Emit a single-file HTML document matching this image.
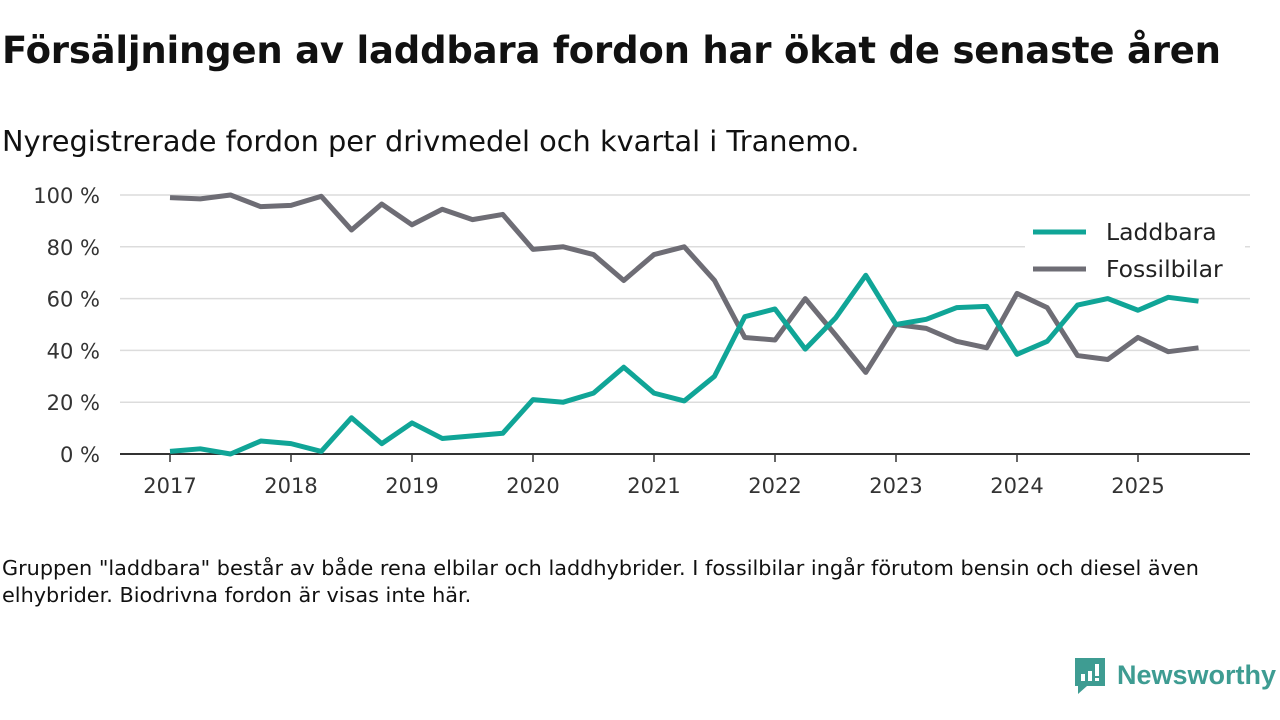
<!DOCTYPE html>
<html><head><meta charset="utf-8"><style>
body{margin:0;width:1280px;height:720px;background:#fff;font-family:"DejaVu Sans","Liberation Sans",sans-serif;color:#111;overflow:hidden;position:relative}
h1{position:absolute;left:2px;top:29px;margin:0;font-size:37px;font-weight:bold;letter-spacing:-0.2px;white-space:nowrap}
.sub{position:absolute;left:2px;top:124px;font-size:28.8px;margin:0;white-space:nowrap}
.note{position:absolute;left:2px;top:555px;font-size:20.8px;line-height:27px;margin:0;width:1240px}
svg{position:absolute;left:0;top:0}
</style></head><body>
<h1>Försäljningen av laddbara fordon har ökat de senaste åren</h1>
<p class="sub">Nyregistrerade fordon per drivmedel och kvartal i Tranemo.</p>
<svg id="chart" width="1280" height="720"></svg>
<p class="note">Gruppen "laddbara" består av både rena elbilar och laddhybrider. I fossilbilar ingår förutom bensin och diesel även elhybrider. Biodrivna fordon är visas inte här.</p>
<script>
const yearLabels=["2017","2018","2019","2020","2021","2022","2023","2024","2025"];
const yTicks=[0,20,40,60,80,100];
const laddbara=[1,2,0,5,4,1,14,4,12,6,7,8,21,20,23.5,33.5,23.5,20.5,30,53,56,40.5,52.5,69,50,52,56.5,57,38.5,43.5,57.5,60,55.5,60.5,59];
const fossil=[99,98.5,100,95.5,96,99.5,86.5,96.5,88.5,94.5,90.5,92.5,79,80,77,67,77,80,67,45,44,60,46,31.5,50,48.5,43.5,41,62,56.5,38,36.5,45,39.5,41];
const NS="http://www.w3.org/2000/svg";
const svg=document.getElementById('chart');
const x=i=>170+i*30.25;
const y=v=>454-v*2.59;
function mk(t,a){const e=document.createElementNS(NS,t);for(const k in a)e.setAttribute(k,a[k]);svg.appendChild(e);return e;}
yTicks.forEach(v=>{
 const l=mk('line',{x1:120,x2:1250,y1:y(v),y2:y(v),stroke:v?'#dcdcdc':'#333','stroke-width':v?1.5:2});
 
 
 const t=mk('text',{x:100,y:y(v)+8,'text-anchor':'end','font-size':21,fill:'#333','font-family':'DejaVu Sans, sans-serif'});
 t.textContent=v+' %';
 
 
});
yearLabels.forEach((s,j)=>{
 const xx=x(j*4);
 const tk=mk('line',{x1:xx,x2:xx,y1:454,y2:462,stroke:'#333','stroke-width':1.5});
 
 
 const t=mk('text',{x:xx,y:493,'text-anchor':'middle','font-size':21,fill:'#333','font-family':'DejaVu Sans, sans-serif'});
 t.textContent=s;
 
 
});
function line(d,c,n){
 const p=mk('polyline',{points:d.map((v,i)=>x(i)+','+y(v)).join(' '),fill:'none',stroke:c,'stroke-width':5,'stroke-linejoin':'round'});
 
 
}
line(fossil,'#6e6d75','line-fossilbilar');
line(laddbara,'#10a597','line-laddbara');
const bg=mk('rect',{x:1025,y:212,width:220,height:80,fill:'#fff'});


[['Laddbara','#10a597',232],['Fossilbilar','#6e6d75',269]].forEach(([s,c,yy])=>{
 const l=mk('line',{x1:1033,x2:1086,y1:yy,y2:yy,stroke:c,'stroke-width':5});
 
 
 const t=mk('text',{x:1106,y:yy+8,'font-size':23.5,fill:'#222','font-family':'DejaVu Sans, sans-serif'});
 t.textContent=s;
 
 
});
const g=mk('g',{});


g.innerHTML='<path d="M1075 658 h30 v28 h-18 l-9 8 v-8 h-3 z" fill="#3e9c92"/><rect x="1081" y="674" width="4" height="7" fill="#fff"/><rect x="1088" y="671" width="4" height="10" fill="#fff"/><rect x="1095" y="664" width="4" height="12" fill="#fff"/><rect x="1095" y="678" width="4" height="3" fill="#fff"/><text x="1117" y="684" font-size="27" font-weight="bold" fill="#3e9c92" font-family="Liberation Sans, sans-serif">Newsworthy</text>';
</script>
</body></html>
